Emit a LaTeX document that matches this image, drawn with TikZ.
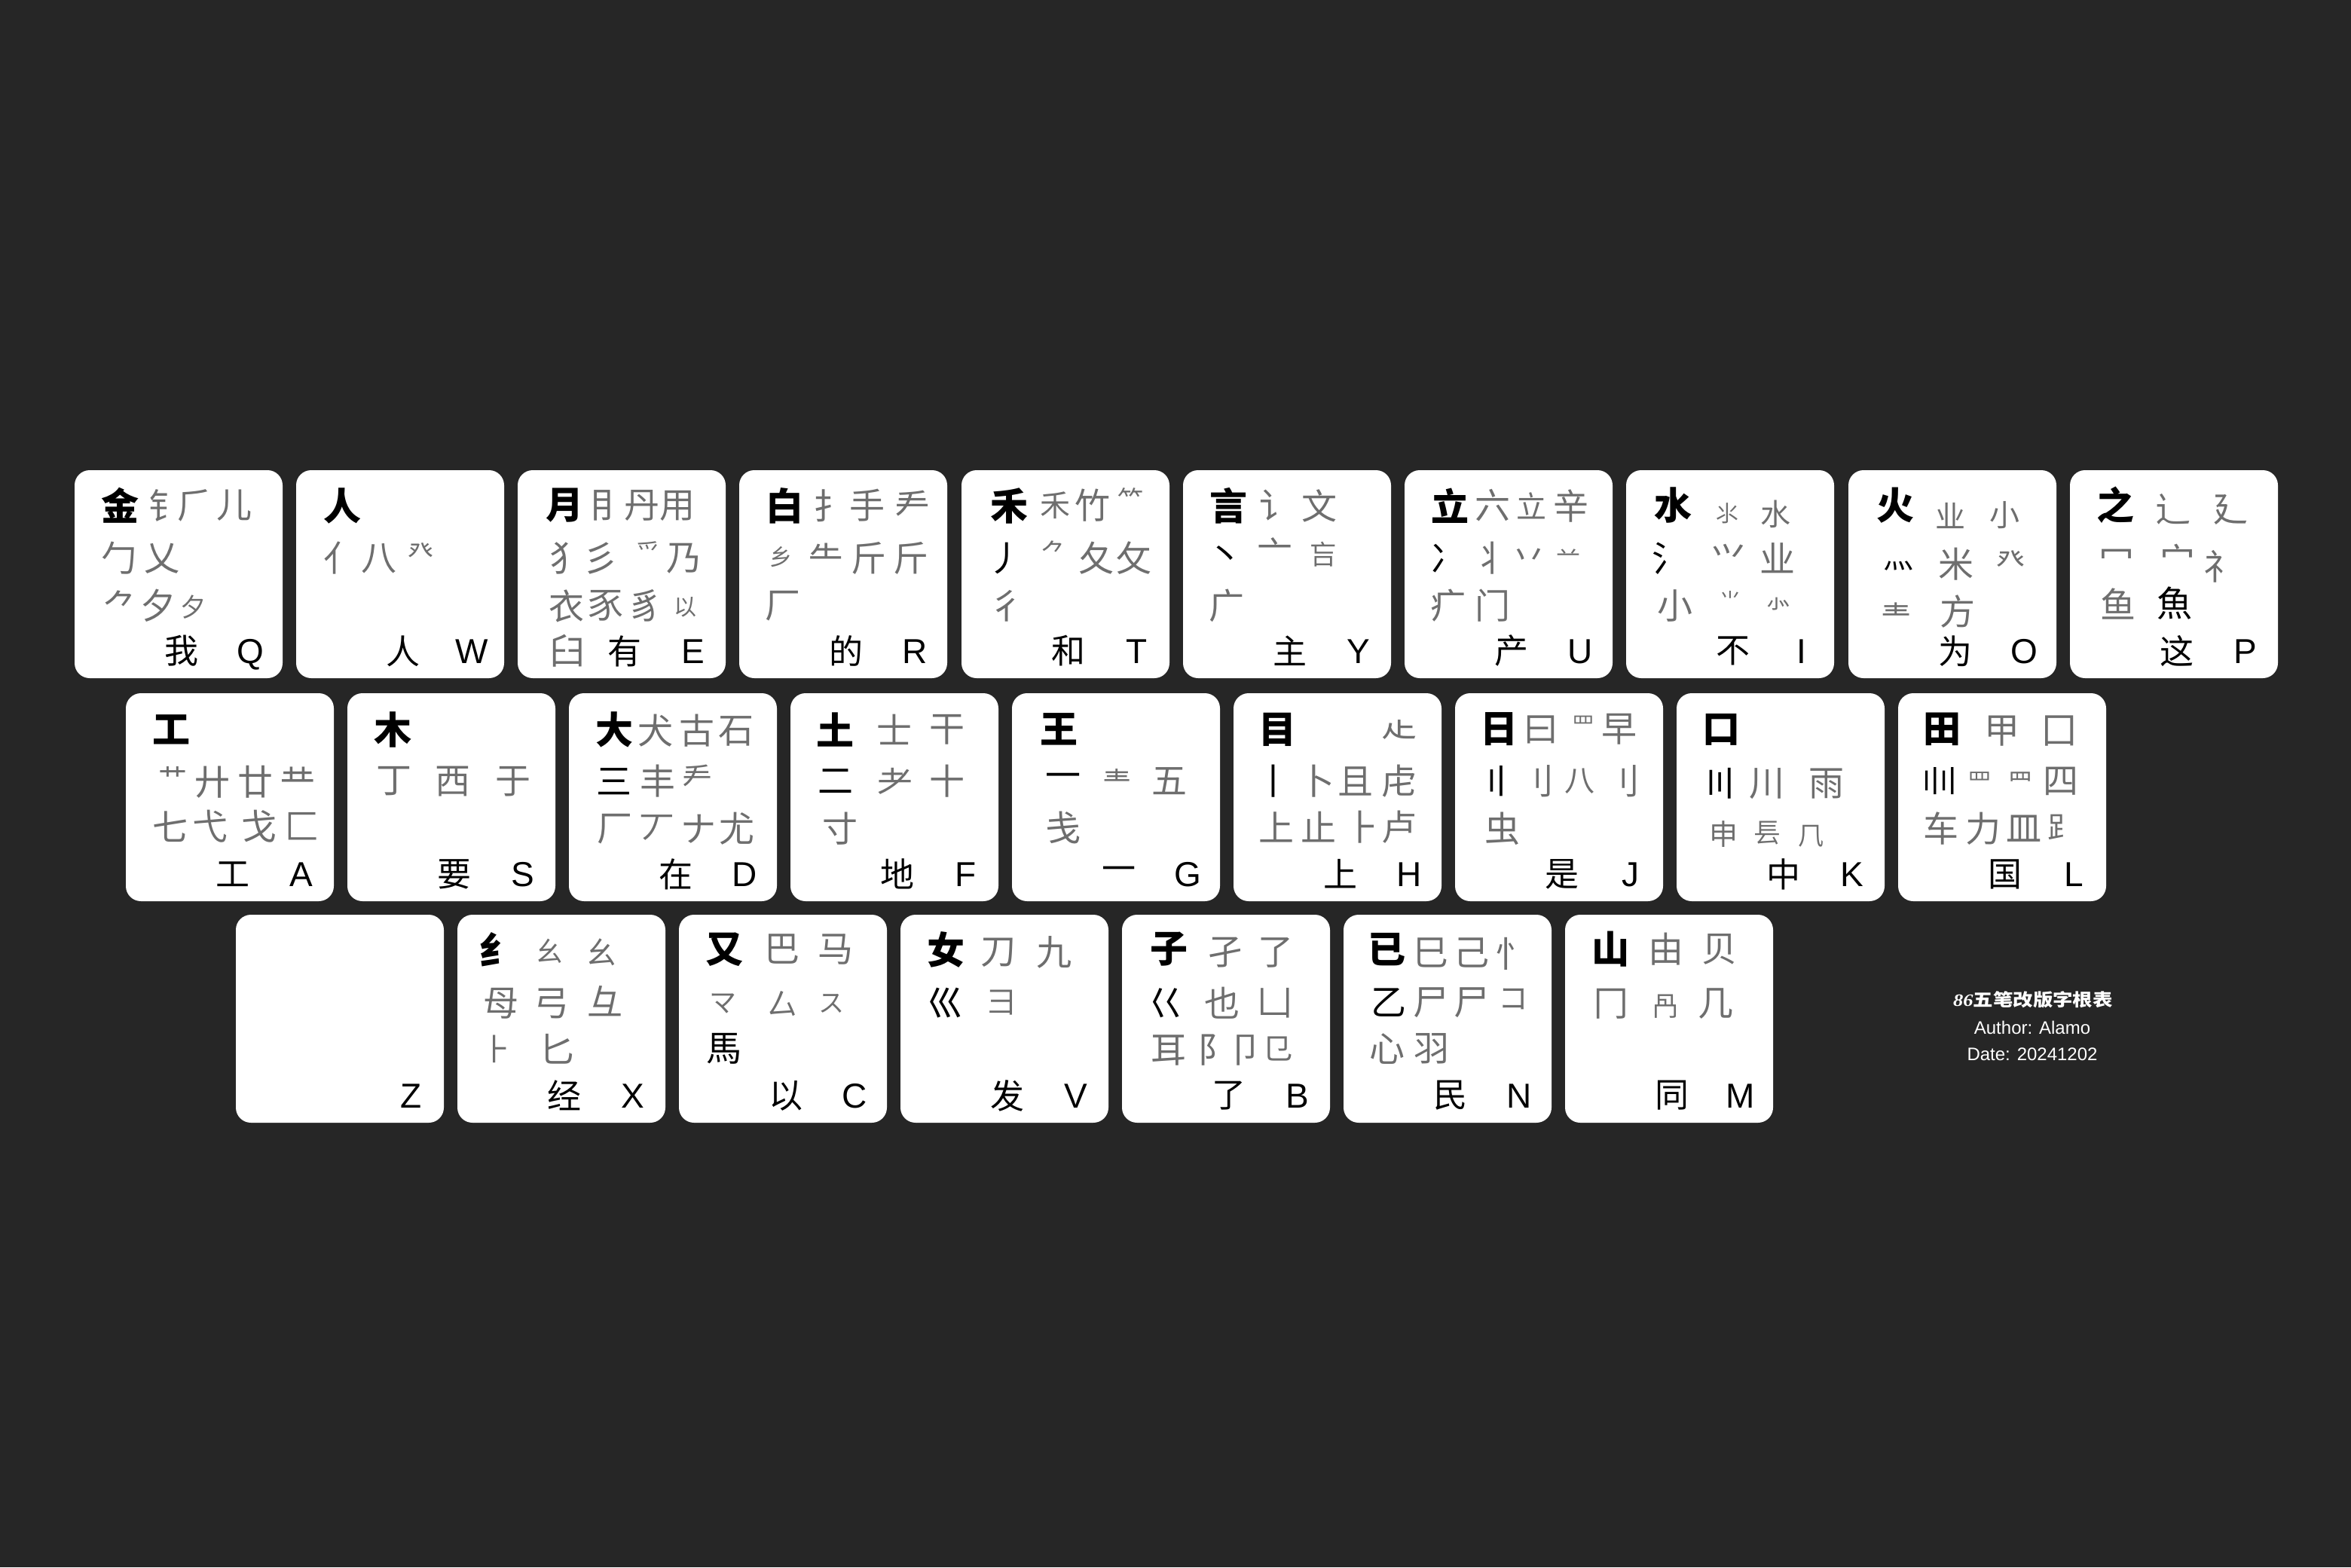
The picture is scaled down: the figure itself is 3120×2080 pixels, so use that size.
\documentclass[tikz,border=0pt]{standalone}
\usepackage{fontspec}
\setmainfont{Liberation Sans}
\newfontfamily\cjk{Noto Sans CJK SC}
\newfontfamily\serifit{Liberation Serif}
\definecolor{bg}{HTML}{262626}
\definecolor{radc}{HTML}{6E6E6E}
\newcount\gc
\newcommand\G[4][47]{\global\advance\gc by 1\relax\edef\gname{g\the\gc}%
  \node[rad,font={\cjk\fontsize{#1}{#1}\selectfont}] (\gname) at (#2,#3) {#4};}
\newcommand\Gk[4][47]{\global\advance\gc by 1\relax\edef\gname{g\the\gc}%
  \node[radk,font={\cjk\fontsize{#1}{#1}\selectfont}] (\gname) at (#2,#3) {#4};}
\newcommand\Mn[3]{\global\advance\gc by 1\relax\edef\gname{g\the\gc}%
  \node[mainc] (\gname) at (#1,#2) {#3};}
\newcommand\B[2]{\global\advance\gc by 1\relax\edef\gname{g\the\gc}%
  \node[kch] (\gname) at (142,240) {#1};%
  \global\advance\gc by 1\relax\edef\gname{g\the\gc}%
  \node[klet] (\gname) at (233,256) {#2};}
\newcommand\Key[3]{\node[keyb] (k#1) at (138+#2,138+#3) {};}
\tikzset{
  keyb/.style={fill=white,draw=none,minimum width=276pt,minimum height=276pt,rounded corners=20pt,inner sep=0pt},
  rad/.style={text=radc,inner sep=0pt,anchor=center},
  radk/.style={text=black,inner sep=0pt,anchor=center},
  mainc/.style={text=black,inner sep=0pt,anchor=center,font={\cjk\bfseries\fontsize{50}{50}\selectfont}},
  kch/.style={text=black,inner sep=0pt,anchor=center,font={\cjk\fontsize{45}{45}\selectfont}},
  klet/.style={text=black,inner sep=0pt,anchor=base,font={\fontsize{46}{46}\selectfont}},
  info/.style={text=white,inner sep=0pt,anchor=base,font={\fontsize{24}{24}\selectfont}}
}
\begin{document}
\begin{tikzpicture}[x=1pt,y=-1pt]
\fill[bg] (0,0) rectangle (3120,2080);
\useasboundingbox (0,0) rectangle (3120,2080);
% ---------- row 1 ----------
\Key{Q}{99}{624}\Key{W}{393}{624}\Key{E}{687}{624}\Key{R}{981}{624}\Key{T}{1276}{624}
\Key{Y}{1570}{624}\Key{U}{1864}{624}\Key{I}{2158}{624}\Key{O}{2453}{624}\Key{P}{2747}{624}
\Key{A}{167}{920}\Key{S}{461}{920}\Key{D}{755}{920}\Key{F}{1049}{920}\Key{G}{1343}{920}
\Key{H}{1637}{920}\Key{J}{1931}{920}\Key{K}{2225}{920}\Key{L}{2519}{920}
\Key{Z}{313}{1214}\Key{X}{607}{1214}\Key{C}{901}{1214}\Key{V}{1195}{1214}\Key{B}{1489}{1214}
\Key{N}{1783}{1214}\Key{M}{2077}{1214}
% Q
\begin{scope}[shift={(99,624)}]
\Mn{60}{47}{金}
\G{122}{47}{钅}\G{160}{47}{⺁}\G{212}{47}{儿}
\G{59}{117}{勹}\G{116}{117}{乂}
\G{61}{180}{⺈}\G{111}{180}{夕}\G[34]{157}{182}{夕}
\B{我}{Q}
\end{scope}
% W
\begin{scope}[shift={(393,624)}]
\Mn{61}{47}{人}
\G{60}{117}{亻}\G{110}{117}{八}\G[34]{165}{108}{癶}
\B{人}{W}
\end{scope}
% E
\begin{scope}[shift={(687,624)}]
\Mn{62}{47}{月}
\G{119}{47}{⺝}\G{165}{47}{丹}\G{212}{47}{用}
\G{66}{117}{犭}\G{110}{117}{彡}\G[32]{173}{108}{爫}\G{221}{117}{乃}
\G{65}{180}{衣}\G{117}{180}{豕}\G{170}{180}{豸}\G[30]{222}{182}{以}
\G{66}{240}{臼}
\B{有}{E}
\end{scope}
% R
\begin{scope}[shift={(981,624)}]
\Mn{60}{47}{白}
\G{122}{47}{扌}\G{170}{47}{手}\G{230}{47}{龵}
\G[30]{55}{115}{乡}\G{115}{117}{⺧}\G{172}{117}{斤}\G{228}{117}{斤}
\G{58}{180}{厂}
\B{的}{R}
\end{scope}
% T
\begin{scope}[shift={(1276,624)}]
\Mn{63}{47}{禾}
\G[40]{124}{47}{禾}\G{174}{47}{竹}\G[34]{224}{38}{⺮}
\Gk{58}{117}{丿}\G[34]{122}{108}{⺈}\G{179}{117}{夂}\G{229}{117}{攵}
\G{60}{180}{彳}
\B{和}{T}
\end{scope}
% Y
\begin{scope}[shift={(1570,624)}]
\Mn{60}{47}{言}
\G{125}{47}{讠}\G{181}{47}{文}
\Gk{56}{115}{丶}\G{122}{109}{亠}\G[36]{186}{112}{吂}
\G{58}{180}{广}
\B{主}{Y}
\end{scope}
% U
\begin{scope}[shift={(1864,624)}]
\Mn{60}{47}{立}
\G{117}{47}{六}\G[40]{168}{47}{立}\G{221}{47}{辛}
\Gk{58}{117}{冫}\G{115}{117}{丬}\G{165}{117}{丷}\G[32]{217}{114}{䒑}
\G{58}{180}{疒}\G{117}{180}{门}
\B{产}{U}
\end{scope}
% I
\begin{scope}[shift={(2158,624)}]
\Mn{62}{47}{水}
\G[30]{134}{57}{⺢}\G[40]{198}{58}{水}
\Gk{58}{117}{氵}\G{136}{117}{⺍}\G{201}{117}{业}
\G{65}{180}{小}\G[28]{138}{172}{⺌}\G[34]{202}{178}{⺗}
\B{不}{I}
\end{scope}
% O
\begin{scope}[shift={(2453,624)}]
\Mn{62}{47}{火}
\G[40]{135}{60}{业}\G[40]{207}{60}{小}
\Gk[40]{66}{127}{灬}\G{143}{125}{米}\G[38]{215}{120}{癶}
\G[40]{63}{193}{龶}\G{145}{188}{方}
\B{为}{O}
\end{scope}
% P
\begin{scope}[shift={(2747,624)}]
\Mn{60}{46}{之}
\G{137}{52}{辶}\G{213}{52}{廴}
\G{62}{118}{冖}\G{143}{118}{宀}\G{201}{128}{礻}
\G{64}{177}{鱼}\Gk{139}{177}{魚}
\B{这}{P}
\end{scope}
% ---------- row 2 ----------
% A
\begin{scope}[shift={(167,920)}]
\Mn{60}{48}{工}
\G[38]{62}{112}{艹}\G{115}{118}{廾}\G{172}{118}{廿}\G{228}{118}{龷}
\G{59}{177}{七}\G{112}{177}{弋}\G{177}{177}{戈}\G{234}{177}{匚}
\B{工}{A}
\end{scope}
% S
\begin{scope}[shift={(461,920)}]
\Mn{60}{48}{木}
\G{62}{117}{丁}\G{140}{117}{西}\G{220}{117}{于}
\B{要}{S}
\end{scope}
% D
\begin{scope}[shift={(755,920)}]
\Mn{60}{48}{大}
\G{115}{50}{犬}\G{170}{50}{古}\G{222}{50}{石}
\Gk{60}{117}{三}\G{118}{117}{丰}\G[40]{170}{112}{龵}
\G{61}{180}{厂}\G{117}{180}{丆}\G{172}{180}{ナ}\G{223}{180}{尤}
\B{在}{D}
\end{scope}
% F
\begin{scope}[shift={(1049,920)}]
\Mn{59}{48}{土}
\G{138}{48}{士}\G{208}{48}{干}
\Gk{60}{117}{二}\G{139}{117}{⺹}\G{208}{117}{十}
\G{66}{180}{寸}
\B{地}{F}
\end{scope}
% G
\begin{scope}[shift={(1343,920)}]
\Mn{62}{48}{王}
\Gk{68}{116}{一}\G[38]{139}{117}{龶}\G{209}{117}{五}
\G{68}{178}{戋}
\B{一}{G}
\end{scope}
% H
\begin{scope}[shift={(1637,920)}]
\Mn{58}{48}{目}
\G{220}{48}{龰}
\Gk{53}{117}{丨}\G{111}{117}{卜}\G{162}{117}{且}\G{220}{117}{虍}
\G{57}{178}{上}\G{113}{178}{止}\G{172}{178}{⺊}\G{220}{178}{卢}
\B{上}{H}
\end{scope}
% J
\begin{scope}[shift={(1931,920)}]
\Mn{58}{48}{日}
\G{114}{48}{曰}\G[30]{170}{42}{罒}\G{218}{48}{早}
\Gk{55}{117}{〢}\G{108}{117}{⺉}\G[40]{165}{117}{八}\G{222}{117}{刂}
\G{63}{180}{虫}
\B{是}{J}
\end{scope}
% K
\begin{scope}[shift={(2225,920)}]
\Mn{59}{48}{口}
\Gk{57}{120}{〣}\G{120}{120}{川}\G{199}{120}{雨}
\G[38]{62}{187}{申}\G[36]{120}{186}{镸}\G[34]{178}{190}{⺇}
\B{中}{K}
\end{scope}
% L
\begin{scope}[shift={(2519,920)}]
\Mn{58}{48}{田}
\G{138}{50}{甲}\G{214}{50}{囗}
\Gk[42]{55}{117}{〢\hspace{-0.45em}〢}\G[32]{108}{117}{罒}\G[32]{162}{117}{⺫}\G{216}{117}{四}
\G{57}{180}{车}\G{113}{180}{力}\G{167}{180}{皿}\G[40]{218}{178}{⻊}
\B{国}{L}
\end{scope}
% ---------- row 3 ----------
% Z
\begin{scope}[shift={(313,1214)}]
\global\advance\gc by 1\relax\edef\gname{g\the\gc}%
\node[klet] (\gname) at (233,256) {Z};
\end{scope}
% X
\begin{scope}[shift={(607,1214)}]
\Mn{54}{46}{纟}
\G[36]{122}{48}{⺓}\G[40]{191}{50}{幺}
\G{58}{118}{⺟}\G{125}{118}{弓}\G{196}{115}{彑}
\G[40]{52}{178}{⺊}\G{132}{178}{匕}
\B{经}{X}
\end{scope}
% C
\begin{scope}[shift={(901,1214)}]
\Mn{60}{46}{又}
\G{137}{46}{巴}\G{208}{46}{马}
\G[36]{58}{118}{マ}\G[40]{137}{118}{厶}\G[34]{202}{118}{ス}
\Gk{60}{178}{馬}
\B{以}{C}
\end{scope}
% V
\begin{scope}[shift={(1195,1214)}]
\Mn{60}{46}{女}
\G{130}{50}{刀}\G{204}{50}{九}
\Gk{60}{117}{巛}\G[40]{134}{117}{彐}
\B{发}{V}
\end{scope}
% B
\begin{scope}[shift={(1489,1214)}]
\Mn{62}{46}{子}
\G{137}{50}{孑}\G{204}{50}{了}
\Gk{58}{117}{巜}\G{133}{117}{也}\G{203}{117}{凵}
\G{62}{180}{耳}\G{124}{180}{阝}\G{164}{180}{卩}\G[40]{206}{178}{㔾}
\B{了}{B}
\end{scope}
% N
\begin{scope}[shift={(1783,1214)}]
\Mn{57}{46}{已}
\G{116}{50}{巳}\G{170}{50}{己}\G{225}{52}{忄}
\Gk{60}{117}{乙}\G{116}{117}{尸}\G{170}{117}{⼫}\G[40]{225}{112}{コ}
\G{58}{178}{心}\G{117}{178}{羽}
\B{民}{N}
\end{scope}
% M
\begin{scope}[shift={(2077,1214)}]
\Mn{60}{46}{山}
\G{134}{46}{由}\G{205}{46}{贝}
\G{61}{118}{冂}\G[36]{133}{122}{冎}\G{200}{118}{几}
\B{同}{M}
\end{scope}
% ---------- info ----------
\node[text=white,inner sep=0pt,anchor=center] (title) at (2698,1327)
  {\scalebox{1.15}[1]{{\serifit\itshape\bfseries\fontsize{23}{23}\selectfont 86}{\cjk\bfseries\fontsize{23}{23}\selectfont 五笔改版字根表}}};
\node[info] (author) at (2697,1372) {Author: Alamo};
\node[info] (date) at (2697,1407) {Date: 20241202};
\end{tikzpicture}
\end{document}
